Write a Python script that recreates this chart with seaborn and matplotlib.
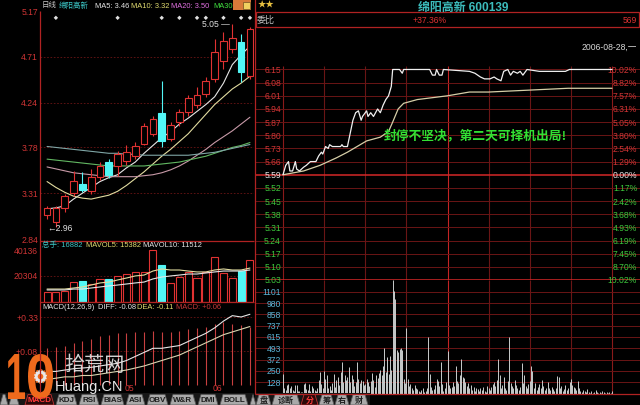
import matplotlib
matplotlib.use("Agg")
import matplotlib.pyplot as plt
import matplotlib.transforms as mtransforms
from matplotlib.patches import Rectangle, Polygon, PathPatch, Circle
from matplotlib.textpath import TextPath
from matplotlib.font_manager import FontProperties
import pandas as pd
import seaborn as sns

# ---------------- daily K-line panel ----------------
day_open = [3.09, 3.02, 3.16, 3.31, 3.40, 3.33, 3.48, 3.63, 3.59, 3.64, 3.69, 3.82,
            3.92, 4.13, 3.87, 4.04, 4.14, 4.22, 4.33, 4.48, 4.67, 4.79, 4.86, 4.51]
day_close = [3.16, 3.16, 3.28, 3.44, 3.34, 3.48, 3.59, 3.50, 3.71, 3.73, 3.79, 4.00,
             4.07, 3.85, 4.01, 4.14, 4.29, 4.32, 4.46, 4.76, 4.87, 4.90, 4.55, 5.00]
day_high = [3.18, 3.18, 3.30, 3.54, 3.53, 3.56, 3.63, 3.66, 3.74, 3.81, 3.84, 4.03,
            4.10, 4.46, 4.04, 4.17, 4.32, 4.40, 4.50, 4.89, 4.96, 5.05, 4.94, 5.02]
day_low = [3.05, 2.96, 3.12, 3.28, 3.32, 3.30, 3.45, 3.47, 3.49, 3.60, 3.66, 3.80,
           3.90, 3.78, 3.85, 4.00, 4.10, 4.18, 4.30, 4.45, 4.58, 4.75, 4.45, 4.48]

ma5 = [3.15, 3.16, 3.18, 3.25, 3.31, 3.37, 3.43, 3.47, 3.50, 3.57, 3.63, 3.72,
       3.80, 3.88, 3.94, 4.02, 4.08, 4.15, 4.22, 4.30, 4.44, 4.63, 4.73, 4.82]
ma10 = [3.43, 3.37, 3.32, 3.28, 3.26, 3.25, 3.27, 3.29, 3.33, 3.39, 3.46, 3.53,
        3.61, 3.69, 3.76, 3.84, 3.92, 4.02, 4.12, 4.22, 4.30, 4.38, 4.44, 4.51]
ma20 = [3.58, 3.56, 3.54, 3.52, 3.51, 3.50, 3.49, 3.48, 3.48, 3.48, 3.48, 3.49,
        3.50, 3.52, 3.55, 3.59, 3.64, 3.70, 3.76, 3.83, 3.89, 3.95, 4.02, 4.09]
ma30 = [3.66, 3.65, 3.64, 3.63, 3.62, 3.61, 3.60, 3.59, 3.59, 3.59, 3.59, 3.59,
        3.60, 3.61, 3.62, 3.63, 3.65, 3.67, 3.69, 3.72, 3.75, 3.78, 3.80, 3.83]
ma60 = [3.79, 3.78, 3.77, 3.76, 3.75, 3.74, 3.73, 3.72, 3.72, 3.71, 3.71, 3.70,
        3.70, 3.70, 3.70, 3.70, 3.70, 3.71, 3.72, 3.73, 3.75, 3.77, 3.79, 3.81]

day_vol = [7700, 7700, 8500, 15400, 16200, 13900, 17800, 17800, 20100, 21600, 23200, 23200,
           40136, 28600, 14700, 19300, 23200, 18500, 23200, 34700, 22400, 18500, 23900, 32400]
mavol5 = [10000, 10000, 10000, 10800, 11600, 13100, 14700, 15400, 17000, 18500, 20100, 20800,
          23900, 25500, 24700, 24700, 23900, 23200, 23200, 24700, 25500, 24700, 24700, 26200]
mavol10 = [9300, 9300, 9300, 10000, 10000, 10800, 11600, 12400, 13100, 13900, 14700, 15400,
           17800, 19300, 20100, 20800, 21600, 21600, 22400, 23200, 23900, 23900, 23900, 24700]

macd_hist = [0.10, 0.11, 0.12, 0.14, 0.15, 0.17, 0.19, 0.20, 0.21, 0.21, 0.22, 0.22,
             0.23, 0.22, 0.22, 0.23, 0.24, 0.25, 0.26, 0.28, 0.29, 0.28, 0.27, 0.26]
hist_floor = -0.17
diff = [-0.07, -0.07, -0.06, -0.05, -0.045, -0.04, -0.03, -0.02, -0.01, 0.01, 0.04, 0.07,
        0.10, 0.10, 0.11, 0.12, 0.15, 0.18, 0.21, 0.25, 0.30, 0.34, 0.33, 0.35]
dea = [-0.13, -0.12, -0.11, -0.11, -0.10, -0.10, -0.09, -0.08, -0.07, -0.06, -0.045, -0.03,
       -0.01, 0.01, 0.03, 0.05, 0.08, 0.11, 0.14, 0.17, 0.20, 0.22, 0.24, 0.26]

marker_days = [1, 8, 13, 15, 17, 18, 20, 22, 23]
month_names = ["05", "06"]
month_first_day = [9, 19]

price_ticks = [5.17, 4.71, 4.24, 3.78, 3.31, 2.84]
vol_ticks = [40136, 20304]
macd_ticks = [0.33, 0.08]

# ---------------- intraday panel ----------------
tick_min = [0, 2, 4, 5, 7, 9, 10, 12, 15, 17, 20, 24, 26, 28, 29, 31, 33, 34, 36, 42,
            43, 44, 47, 49, 51, 53, 55, 57, 58, 61, 62, 64, 66, 69, 71, 73, 75, 77, 79, 80,
            85, 87, 88, 107, 109, 111, 112, 114, 116, 117, 136, 140, 144, 147, 151, 154, 156, 159, 161, 164,
            166, 168, 171, 173, 175, 178, 187, 206, 209, 240]
tick_px = [5.59, 5.64, 5.66, 5.61, 5.61, 5.66, 5.62, 5.61, 5.63, 5.64, 5.66, 5.66, 5.69, 5.71, 5.70, 5.74, 5.73, 5.75, 5.74, 5.74,
           5.75, 5.74, 5.74, 5.81, 5.88, 5.92, 5.93, 5.88, 5.90, 5.93, 5.90, 5.92, 5.90, 5.94, 5.92, 5.96, 5.99, 6.01, 6.06, 6.15,
           6.15, 6.13, 6.15, 6.15, 6.12, 6.12, 6.15, 6.12, 6.12, 6.15, 6.14, 6.13, 6.11, 6.10, 6.10, 6.11, 6.10, 6.09, 6.14, 6.15,
           6.12, 6.14, 6.13, 6.14, 6.12, 6.15, 6.14, 6.14, 6.15, 6.15]
avg_min = [0, 15, 27, 39, 47, 54, 61, 71, 77, 80, 84, 88, 98, 109, 120, 136, 150, 179, 208, 240]
avg_px = [5.59, 5.61, 5.64, 5.68, 5.71, 5.74, 5.77, 5.79, 5.82, 5.87, 5.94, 5.97, 5.99, 6.00,
          6.01, 6.03, 6.03, 6.04, 6.05, 6.05]

minute_volume = [
    215, 70, 45, 95, 110, 60, 85, 40, 30, 100,
    95, 35, 30, 25, 20, 110, 120, 55, 40, 105,
    35, 90, 70, 45, 30, 60, 150, 240, 110, 70,
    250, 160, 200, 60, 90, 45, 120, 215, 80, 150,
    185, 100, 240, 340, 130, 210, 150, 180, 290, 130,
    200, 160, 90, 130, 350, 160, 120, 150, 140, 100,
    110, 160, 130, 90, 140, 230, 150, 80, 200, 170,
    230, 260, 210, 300, 500, 240, 400, 215, 410, 260,
    1227, 1110, 1020, 470, 450, 485, 500, 480, 160, 120,
    715, 160, 90, 110, 70, 40, 100, 60, 50, 30,
    20, 40, 60, 25, 30, 70, 620, 215, 80, 40,
    50, 100, 160, 140, 90, 340, 110, 30, 60, 130,
    465, 100, 60, 80, 130, 90, 305, 140, 120, 200,
    375, 180, 170, 130, 90, 120, 60, 100, 40, 80,
    30, 70, 50, 30, 60, 40, 80, 30, 25, 90,
    60, 40, 80, 110, 130, 90, 150, 375, 200, 60,
    100, 180, 60, 40, 140, 620, 120, 90, 70, 150,
    100, 60, 40, 80, 335, 120, 200, 90, 60, 110,
    140, 305, 250, 60, 120, 40, 80, 110, 60, 150,
    90, 40, 70, 130, 60, 40, 80, 50, 30, 70,
    195, 180, 60, 90, 30, 50, 100, 40, 70, 130,
    160, 100, 80, 60, 40, 145, 60, 30, 20, 40,
    30, 20, 50, 25, 15, 35, 10, 20, 40, 20,
    15, 25, 10, 30, 20, 15, 25, 10, 20, 15,
    30]

prev_close = 5.59
price_levels = [6.15, 6.08, 6.01, 5.94, 5.87, 5.80, 5.73, 5.66, 5.59,
                5.52, 5.45, 5.38, 5.31, 5.24, 5.17, 5.10, 5.03]
pct_labels = ["10.02%", "8.82%", "7.57%", "6.31%", "5.05%", "3.80%", "2.54%", "1.29%", "0.00%",
              "1.17%", "2.42%", "3.68%", "4.93%", "6.19%", "7.45%", "8.70%", "10.02%"]
vol_levels = [1101, 980, 858, 737, 615, 493, 372, 250, 128]

stock_title = "绵阳高新 600139"
weibi_text, weicha_text = "+37.36%", "569"
date_text = "2006-08-28,一"
note_text = "封停不坚决，第二天可择机出局!"

# ---------------- style ----------------
sns.set_theme(style="dark", rc={"figure.facecolor": "black", "axes.facecolor": "black",
                                "savefig.facecolor": "black"})
plt.rcParams["font.family"] = ["Liberation Sans", "Noto Sans CJK SC", "DejaVu Sans"]
plt.rcParams["axes.unicode_minus"] = False

RED = "#e03232"
CYAN = "#52f6f6"
GRID = "#6a1515"
BORDER = "#b02222"
LBL_RED = "#d03535"
LBL_GRN = "#3cc83c"
FS = 6.2
HFS = 5.4

W, H = 640, 406
fig = plt.figure(figsize=(W / 100, H / 100), dpi=100, facecolor="black")


def add_ax(x0, y0, x1, y1, z=1):
    ax = fig.add_axes([x0 / W, 1 - y1 / H, (x1 - x0) / W, (y1 - y0) / H], zorder=z)
    ax.set_facecolor("black")
    ax.set_axis_off()
    return ax


ov = fig.add_axes([0, 0, 1, 1], zorder=20)
ov.set_xlim(0, W)
ov.set_ylim(H, 0)
ov.set_axis_off()

days = list(range(len(day_open)))
XL = (-0.8, 23.46)

# ---- candles ----
ax_k = add_ax(40, 12, 254, 242)
ax_k.set_xlim(*XL)
ax_k.set_ylim(2.82, 5.18)
for v in price_ticks[1:-1]:
    ax_k.axhline(v, color=GRID, lw=0.6, ls=(0, (2, 2)), zorder=0)

daily = pd.DataFrame({"day": days, "MA5": ma5, "MA10": ma10, "MA20": ma20,
                      "MA30": ma30, "MA60": ma60})
long = daily.melt("day", var_name="line", value_name="price")
sns.lineplot(data=long, x="day", y="price", hue="line", ax=ax_k, legend=False,
             estimator=None, lw=0.8, zorder=2,
             palette={"MA5": "#e6e6e6", "MA10": "#e2dca0", "MA20": "#c89aa8",
                      "MA30": "#62b862", "MA60": "#7fa6a6"})

for i in days:
    o, c, hi, lo = day_open[i], day_close[i], day_high[i], day_low[i]
    up = c >= o
    col = RED if up else CYAN
    ax_k.vlines(i, lo, min(o, c), color=col, lw=0.8, zorder=3)
    ax_k.vlines(i, max(o, c), hi, color=col, lw=0.8, zorder=3)
    ax_k.add_patch(Rectangle((i - 0.38, min(o, c)), 0.76, max(abs(c - o), 0.01),
                             facecolor="black" if up else CYAN, edgecolor=col,
                             lw=0.8, zorder=4))

sns.scatterplot(x=marker_days, y=[5.11] * len(marker_days), ax=ax_k, marker="D", s=5,
                color="#e0e0e0", edgecolor="none", legend=False, zorder=5)

i_lo = day_low.index(min(day_low))
ax_k.text(i_lo - 1, day_low[i_lo], "←%.2f" % day_low[i_lo], color="#e0e0e0",
          fontsize=FS, ha="left", va="center")
i_hi = day_high.index(max(day_high))
ax_k.text(i_hi - 0.25, day_high[i_hi], "%.2f —" % day_high[i_hi], color="#e0e0e0",
          fontsize=FS, ha="right", va="center")

# ---- daily volume ----
ax_v = add_ax(40, 242, 254, 303)
ax_v.set_xlim(*XL)
ax_v.set_ylim(0, 47084)
ax_v.axhline(vol_ticks[1], color=GRID, lw=0.6, ls=(0, (2, 2)), zorder=0)
for i in days:
    up = day_close[i] >= day_open[i]
    ax_v.bar(i, day_vol[i], width=0.8, bottom=0,
             facecolor="black" if up else CYAN, edgecolor=RED if up else CYAN, lw=0.8, zorder=2)
vdf = pd.DataFrame({"day": days, "MAVOL5": mavol5, "MAVOL10": mavol10})
sns.lineplot(data=vdf.melt("day", var_name="line", value_name="v"), x="day", y="v",
             hue="line", palette={"MAVOL5": "#e2dca0", "MAVOL10": "#e6e6e6"},
             ax=ax_v, legend=False, lw=0.8, estimator=None, zorder=3)

# ---- MACD ----
ax_m = add_ax(40, 303, 254, 392)
ax_m.set_xlim(*XL)
ax_m.set_ylim(-0.214, 0.4403)
for v in macd_ticks:
    ax_m.axhline(v, color=GRID, lw=0.6, ls=(0, (2, 2)), zorder=0)
ax_m.vlines(days, hist_floor, macd_hist, color="#c84040", lw=0.8, zorder=1)
mdf = pd.DataFrame({"day": days, "DIFF": diff, "DEA": dea})
sns.lineplot(data=mdf.melt("day", var_name="line", value_name="v"), x="day", y="v",
             hue="line", palette={"DIFF": "#e6e6e6", "DEA": "#d8d4b0"},
             ax=ax_m, legend=False, lw=0.8, estimator=None, zorder=2)
for name, d in zip(month_names, month_first_day):
    ax_m.text(d - 0.2, -0.19, name, color=LBL_RED, fontsize=FS, ha="left", va="center",
              zorder=30)

# left-hand value labels
for ax, ticks, fmt in [(ax_k, price_ticks, "{:.2f}"), (ax_v, vol_ticks, "{:d}"),
                       (ax_m, macd_ticks, "+{:.2f}")]:
    tr = mtransforms.blended_transform_factory(ov.transData, ax.transData)
    for v in ticks:
        ax.text(38, v, fmt.format(v), transform=tr, color=LBL_RED, fontsize=FS,
                ha="right", va="center")

# ---------------- intraday ----------------
T0, PXM = 283, 329 / 240.0
TXL = ((255 - T0) / PXM, (640 - T0) / PXM)
ax_p = add_ax(255, 28, 640, 281)
ax_p.set_xlim(*TXL)
ax_p.set_ylim(5.03, 6.376)
ax_iv = add_ax(255, 281, 640, 395)
ax_iv.set_xlim(*TXL)
ax_iv.set_ylim(0, 1230)

for t in range(0, 241, 30):
    col = "#c42424" if t == 120 else ("#8a1a1a" if t in (0, 240) else GRID)
    ax_p.vlines(t, 5.03, 6.17, color=col, lw=0.8, zorder=0)
    ax_iv.vlines(t, 0, 1230, color=col, lw=0.8, zorder=0)
for lv, pct in zip(price_levels, pct_labels):
    bright = lv in (prev_close, price_levels[-1])
    ax_p.axhline(lv, color="#d42828" if bright else GRID, lw=1.1 if bright else 0.7, zorder=1)
    col = "#e8e8e8" if lv == prev_close else (LBL_RED if lv > prev_close else LBL_GRN)
    ax_p.text(-1.5, lv, f"{lv:.2f}", color=col, fontsize=FS, ha="right", va="center")
    ax_p.text(258.3, lv, pct, color=col, fontsize=FS, ha="right", va="center")
for lv in vol_levels:
    ax_iv.axhline(lv, color=GRID, lw=0.7, zorder=1)
    ax_iv.text(-1.5, lv, str(lv), color="#5ab4d6", fontsize=FS, ha="right", va="center")

minutes = list(range(len(minute_volume)))
ax_iv.vlines(minutes, 0, minute_volume, colors="#c9cccc", lw=0.7, zorder=2)

idf = pd.concat([pd.DataFrame({"t": avg_min, "p": avg_px, "s": "avg"}),
                 pd.DataFrame({"t": tick_min, "p": tick_px, "s": "price"})])
sns.lineplot(data=idf, x="t", y="p", hue="s", palette={"price": "#f0f0f0", "avg": "#d6cfa8"},
             ax=ax_p, legend=False, lw=0.9, estimator=None, sort=False, zorder=3)

ax_p.text(140, 5.805, note_text, color="#33e033", fontsize=9.2, fontweight="bold",
          ha="center", va="center", family=["Noto Sans CJK SC", "DejaVu Sans"])

# ---------------- frame, headers and tabs ----------------
def L(xs, ys, c=BORDER, lw=0.9):
    ov.plot(xs, ys, color=c, lw=lw, solid_capstyle="butt")


L([40, 40], [12, 393])
L([254.5, 254.5], [0, 395])
L([40, 254], [242, 242])
L([40, 254], [303, 303])
L([255, 640], [395, 395])
ov.add_patch(Rectangle((256, 13), 383, 15, facecolor="none", edgecolor=BORDER, lw=0.9))


def T(x, y, s, c, size=HFS, ha="left", **kw):
    ov.text(x, y, s, color=c, fontsize=size, ha=ha, va="center", **kw)


T(42, 6, "日线", "#c8c8c8")
T(59, 6, "绵阳高新", "#3cc8c8")
T(95, 6, "MA5: 3.46", "#e6e6e6")
T(131, 6, "MA10: 3.32", "#e2dc70")
T(171, 6, "MA20: 3.50", "#e070e0")
T(213, 6, "MA30", "#40e040")
ov.add_patch(Rectangle((233, 1), 18, 10, facecolor="#d87a3a", edgecolor="none"))
ov.add_patch(Rectangle((243, 2.5), 7, 7, facecolor="#f0d060", edgecolor="#705020", lw=0.5))

T(42, 245.5, "总手: 16882", "#3cc8c8")
T(86, 245.5, "MAVOL5: 15382", "#e2dc70")
T(143, 245.5, "MAVOL10: 11512", "#e6e6e6")

T(42, 307.5, "MACD(12,26,9)", "#e6e6e6")
T(98, 307.5, "DIFF: -0.08", "#e6e6e6")
T(137, 307.5, "DEA: -0.11", "#e2dc70")
T(176, 307.5, "MACD: +0.06", "#c83a3a")

T(258, 6, "★★", "#e8c040", size=6)
T(463, 7.5, stock_title, "#3cbcbc", size=8.6, ha="center", fontweight="bold")
T(257, 20.5, "委比", "#c0c0c0", size=6.5)
T(430, 20.5, weibi_text, "#e03232", size=FS, ha="center")
T(637, 20.5, weicha_text, "#e03232", size=FS, ha="right")
T(637, 47.5, date_text, "#d8d8d8", size=FS, ha="right")

# bottom tab strips
ov.add_patch(Rectangle((0, 394), 254, 12, facecolor="#161616", edgecolor="none"))
ov.add_patch(Rectangle((255, 394), 115, 12, facecolor="#161616", edgecolor="none"))
left_tabs = ["", "", "MACD", "KDJ", "RSI", "BIAS", "ASI", "OBV", "W&R", "DMI", "BOLL", ""]
left_spans = [(0, 8), (9, 19), (25, 54), (56, 77), (79, 99), (101, 124), (126, 145),
              (147, 168), (170, 196), (198, 218), (220, 248), (250, 256)]
right_tabs = ["盘", "诊断", "分", "筹", "右", "财"]
right_spans = [(256, 271), (272, 300), (301, 318), (319, 334), (335, 349), (350, 368)]
for labels, spans, active in [(left_tabs, left_spans, "MACD"), (right_tabs, right_spans, "分")]:
    for lab, (a, b) in zip(labels, spans):
        on = lab == active
        ov.add_patch(Polygon([(a, 406), (a + 3, 395.5), (b - 3, 395.5), (b, 406)],
                             closed=True, facecolor="#2a0a0a" if on else "#a9a9a9",
                             edgecolor="#c03030" if on else "#5a5a5a", lw=0.6))
        if lab:
            ov.text((a + b) / 2, 401, lab, color="#ff3a3a" if on else "#1e1e1e",
                    fontsize=5.8, fontweight="bold", ha="center", va="center")


# watermark
def glyphs_in_box(s, x0, y0, x1, y1, color, alpha=1.0):
    tp = TextPath((0, 0), s, size=100,
                  prop=FontProperties(family="Liberation Sans", weight="bold"))
    bb = tp.get_extents()
    tr = (mtransforms.Affine2D().translate(-bb.x0, -bb.y0)
          .scale((x1 - x0) / bb.width, -(y1 - y0) / bb.height).translate(x0, y1))
    ov.add_patch(PathPatch(tr.transform_path(tp), facecolor=color, edgecolor="none",
                           alpha=alpha))


glyphs_in_box("1", 8, 355, 25, 400, "#ee6a1c")
glyphs_in_box("0", 28, 355, 53, 400, "#ee6a1c")
ov.add_patch(Circle((40.5, 377.5), 6.5, facecolor="#e8e8e8", edgecolor="#ee6a1c",
                    lw=1.2, ls=(0, (1, 1))))
ov.add_patch(Circle((40.5, 377.5), 2.8, facecolor="#ee6a1c", edgecolor="none"))
ov.text(64, 366, "拾荒网", color="#e8e8e8", alpha=0.9, fontsize=14.5, ha="left",
        va="center", family=["Noto Sans CJK SC", "DejaVu Sans"])
ov.text(55, 387, "Huang.CN", color="#e6e6e6", fontsize=10.5, ha="left", va="center")

fig.savefig("out.png", dpi=100, facecolor="black")
